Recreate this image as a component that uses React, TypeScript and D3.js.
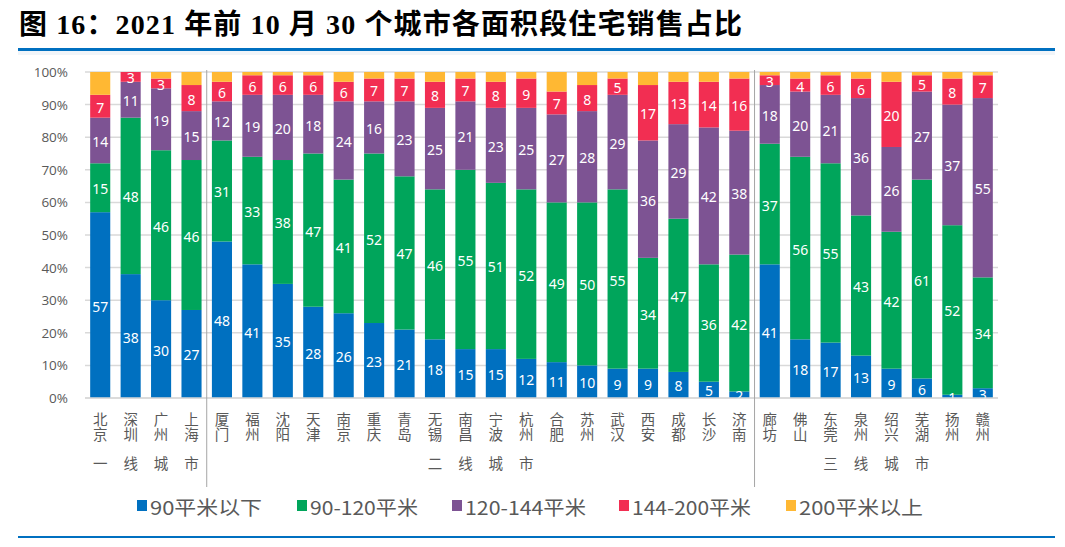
import React from "react";
import * as d3 from "d3";

const cities = ["北京","深圳","广州","上海","厦门","福州","沈阳","天津","南京","重庆","青岛","无锡","南昌","宁波","杭州","合肥","苏州","武汉","西安","成都","长沙","济南","廊坊","佛山","东莞","泉州","绍兴","芜湖","扬州","赣州"];
const tierChars = ["一","线","城","市","","","","","","","","二","线","城","市","","","","","","","","","","三","线","城","市","",""];
const under90 = [57,38,30,27,48,41,35,28,26,23,21,18,15,15,12,11,10,9,9,8,5,2,41,18,17,13,9,6,1,3];
const s90to120 = [15,48,46,46,31,33,38,47,41,52,47,46,55,51,52,49,50,55,34,47,36,42,37,56,55,43,42,61,52,34];
const s120to144 = [14,11,19,15,12,19,20,18,24,16,23,25,21,23,25,27,28,29,36,29,42,38,18,20,21,36,26,27,37,55];
const s144to200 = [7,3,3,8,6,6,6,6,6,7,7,8,7,8,9,7,8,5,17,13,14,16,3,4,6,6,20,5,8,7];
const over200 = [7,0,2,4,3,1,1,1,3,2,2,3,2,3,2,6,4,2,4,3,3,2,1,2,1,2,3,1,2,1];
const seriesNames = ["90平米以下","90-120平米","120-144平米","144-200平米","200平米以上"];
const seriesColors = ["#0070C0","#00A55B","#7D5393","#F22E52","#FFB833"];
const yTicks = [0,10,20,30,40,50,60,70,80,90,100];
const groupBreaks = [4, 22];
const title = "图 16：2021 年前 10 月 30 个城市各面积段住宅销售占比";

const W = 1065, H = 547;
const plot = { left: 85, right: 998, top: 72, bottom: 398 };

export default function App() {
  const seriesVals = [under90, s90to120, s120to144, s144to200, over200];
  const rows = cities.map((c, i) => {
    const r: any = { city: c };
    seriesVals.forEach((s, k) => (r["s" + k] = s[i]));
    return r;
  });
  const keys = seriesVals.map((_, k) => "s" + k);
  const stacked = d3.stack().keys(keys)(rows);
  const x = d3.scaleBand().domain(cities).range([plot.left, plot.right]).paddingInner(0.34).paddingOuter(0.17);
  const y = d3.scaleLinear().domain([0, 100]).range([plot.bottom, plot.top]);
  const step = x.step();

  const legendX = [137, 297, 452, 619, 786];
  const legendW = [112, 108, 121, 119, 124];

  return (
    <svg width={W} height={H} style={{ position: "absolute", left: 0, top: 0, background: "#fff" }}>
      <text x={19} y={34} fontFamily="'Liberation Serif','Noto Sans CJK SC',serif" fontWeight="bold" fontSize={28} fill="#000" textLength={723} lengthAdjust="spacing">{title}</text>
      <rect x={18} y={48} width={1037} height={3} fill="#0070C0" />
      <rect x={18} y={51} width={1037} height={4} fill="#e8eef5" opacity={0.6} />

      {yTicks.map(t => (
        <g key={t}>
          <line x1={plot.left} x2={plot.right} y1={y(t)} y2={y(t)} stroke="#d9d9d9" strokeWidth={1.5} />
          <text x={68} y={y(t)} textAnchor="end" dominantBaseline="central" fontFamily="'Open Sans','Noto Sans',sans-serif" fontSize={13.5} fill="#595959">{t}%</text>
        </g>
      ))}

      {stacked.map((layer, k) => (
        <g key={k} fill={seriesColors[k]}>
          {layer.map((d, i) => (
            <rect key={i} x={x(cities[i])} width={x.bandwidth()} y={y(d[1])} height={Math.max(0, y(d[0]) - y(d[1]))} />
          ))}
        </g>
      ))}

      {stacked.slice(0, 4).map((layer, k) => (
        <g key={"l" + k}>
          {layer.map((d, i) => (
            <text key={i} x={(x(cities[i]) as number) + x.bandwidth() / 2} y={(y(d[0]) + y(d[1])) / 2 + 1}
              textAnchor="middle" dominantBaseline="central" fontFamily="'Noto Sans',sans-serif" fontSize={14} fill="#fff">
              {seriesVals[k][i]}
            </text>
          ))}
        </g>
      ))}

      <line x1={plot.left} x2={plot.right} y1={y(0)} y2={y(0)} stroke="#d9d9d9" strokeWidth={1.5} />

      {groupBreaks.map(b => {
        const xx = plot.left + b * step;
        return <line key={b} x1={xx} x2={xx} y1={70} y2={487} stroke="#a6a6a6" strokeWidth={1} />;
      })}

      {cities.map((c, i) => {
        const cx = (x(c) as number) + x.bandwidth() / 2;
        return (
          <g key={c} fontFamily="'Noto Sans CJK SC',sans-serif" fontSize={14.5} fill="#595959">
            <text x={cx} y={412} style={{ writingMode: "vertical-rl", textOrientation: "upright", letterSpacing: "0.5px" } as any}>{c}</text>
            {tierChars[i] ? <text x={cx} y={462} textAnchor="middle" dominantBaseline="central">{tierChars[i]}</text> : null}
          </g>
        );
      })}

      {seriesNames.map((n, k) => (
        <g key={n}>
          <rect x={legendX[k]} y={500} width={10} height={11} fill={seriesColors[k]} />
          <text x={legendX[k] + 13} y={506} dominantBaseline="central" fontFamily="'Noto Sans CJK SC',sans-serif" fontSize={19} fill="#595959" textLength={legendW[k]} lengthAdjust="spacingAndGlyphs">{n}</text>
        </g>
      ))}

      <rect x={18} y={536} width={1037} height={2} fill="#0070C0" />
    </svg>
  );
}
